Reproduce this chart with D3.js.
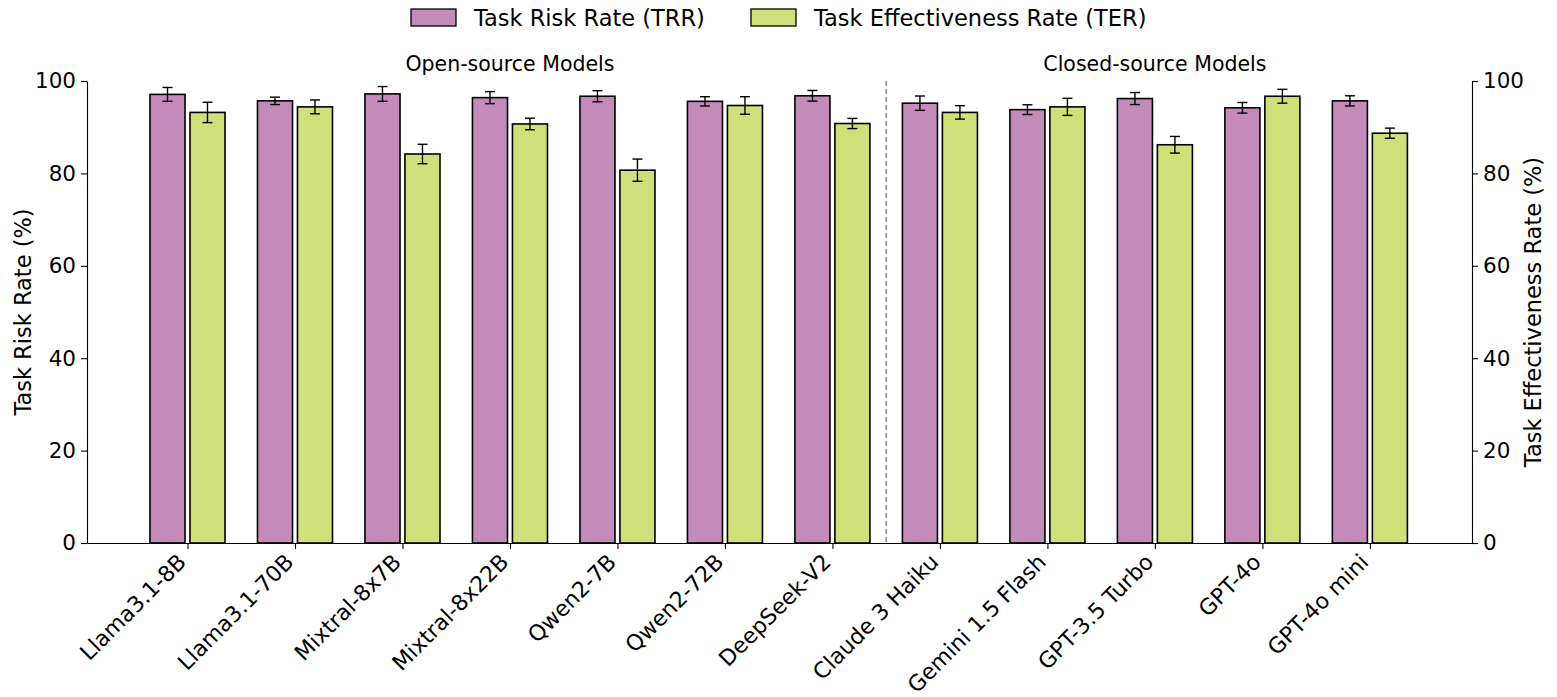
<!DOCTYPE html>
<html>
<head>
<meta charset="utf-8">
<script src="https://cdn.jsdelivr.net/npm/d3@7"></script>
<style>
  body { margin: 0; background: #fff; }
  svg text { font-family: "DejaVu Sans", sans-serif; fill: #000; }
</style>
</head>
<body>
<svg id="chart" width="1557" height="697"></svg>
<script>
const models = ["Llama3.1-8B", "Llama3.1-70B", "Mixtral-8x7B", "Mixtral-8x22B", "Qwen2-7B", "Qwen2-72B",
  "DeepSeek-V2", "Claude 3 Haiku", "Gemini 1.5 Flash", "GPT-3.5 Turbo", "GPT-4o", "GPT-4o mini"]
const trr = [97.1, 95.7, 97.2, 96.4, 96.7, 95.6, 96.8, 95.2, 93.8, 96.2, 94.2, 95.7]
const trrErr = [1.5, 0.8, 1.6, 1.3, 1.2, 1.0, 1.15, 1.55, 1.05, 1.3, 1.15, 1.1]
const ter = [93.2, 94.4, 84.2, 90.7, 80.7, 94.7, 90.8, 93.2, 94.4, 86.2, 96.7, 88.7]
const terErr = [2.2, 1.5, 2.1, 1.25, 2.4, 1.9, 1.1, 1.45, 1.85, 1.8, 1.5, 1.1]
const yTicks = [0, 20, 40, 60, 80, 100]
const groups = [{ label: "Open-source Models", at: 3 }, { label: "Closed-source Models", at: 9 }]

const svg = d3.select("#chart")
const margin = { left: 87, right: 85, top: 81, bottom: 154 }
const width = 1557 - margin.left - margin.right
const height = 697 - margin.top - margin.bottom

const g = svg.append("g").attr("transform", "translate(" + margin.left + "," + margin.top + ")")

const x = d3.scaleLinear().domain([-0.935, 11.95]).range([0, width])
const y = d3.scaleLinear().domain([0, 100]).range([height, 0])
const step = x(1) - x(0)
const barW = step * 0.326
const off = step * 0.186

const series = [
  { vals: trr, errs: trrErr, color: "#C48BBA", dx: -off },
  { vals: ter, errs: terErr, color: "#CFDF79", dx: off }
]

series.forEach(s => {
  const bars = g.append("g")
  bars.selectAll("rect")
    .data(s.vals)
    .enter().append("rect")
    .attr("x", (d, i) => x(i) + s.dx - barW / 2)
    .attr("y", d => y(d))
    .attr("width", barW)
    .attr("height", d => y(0) - y(d))
    .attr("fill", s.color)
    .attr("stroke", "#000")
    .attr("stroke-width", 1.6)

  const err = g.append("g").attr("stroke", "#000").attr("stroke-width", 1.4)
  s.vals.forEach((d, i) => {
    const cx = x(i) + s.dx
    err.append("line").attr("x1", cx).attr("x2", cx).attr("y1", y(d - s.errs[i])).attr("y2", y(d + s.errs[i]))
    err.append("line").attr("x1", cx - 5).attr("x2", cx + 5).attr("y1", y(d - s.errs[i])).attr("y2", y(d - s.errs[i]))
    err.append("line").attr("x1", cx - 5).attr("x2", cx + 5).attr("y1", y(d + s.errs[i])).attr("y2", y(d + s.errs[i]))
  })
})

// divider between open and closed models
g.append("line")
  .attr("x1", x(6.5)).attr("x2", x(6.5))
  .attr("y1", 0).attr("y2", height)
  .attr("stroke", "#888").attr("stroke-width", 1.4)
  .attr("stroke-dasharray", "5,3")

groups.forEach(gr => {
  g.append("text")
    .attr("x", x(gr.at)).attr("y", -10)
    .attr("text-anchor", "middle")
    .style("font-size", "20.5px")
    .text(gr.label)
})

// axes
const xAxis = d3.axisBottom(x).tickValues(d3.range(models.length)).tickFormat(i => models[i]).tickSize(6).tickSizeOuter(0)
const xg = g.append("g").attr("transform", "translate(0," + height + ")").call(xAxis)
xg.selectAll("text")
  .style("font-size", "22px")
  .attr("text-anchor", "end")
  .attr("dy", "0.35em")
  .attr("transform", "translate(-6,15) rotate(-45)")
  .attr("x", 0).attr("y", 0)

const yLeft = g.append("g").call(d3.axisLeft(y).tickValues(yTicks).tickSize(6).tickSizeOuter(0).tickPadding(5))
const yRight = g.append("g").attr("transform", "translate(" + width + ",0)")
  .call(d3.axisRight(y).tickValues(yTicks).tickSize(6).tickSizeOuter(0).tickPadding(5))
;[xg, yLeft, yRight].forEach(a => {
  a.select(".domain").attr("stroke", "#000").attr("stroke-width", 1.1)
  a.selectAll(".tick line").attr("stroke", "#000").attr("stroke-width", 1.1)
})
yLeft.selectAll("text").style("font-size", "21.5px")
yRight.selectAll("text").style("font-size", "21.5px")

svg.append("text")
  .attr("transform", "translate(31," + (margin.top + height / 2) + ") rotate(-90)")
  .attr("text-anchor", "middle")
  .style("font-size", "22.5px")
  .text("Task Risk Rate (%)")

svg.append("text")
  .attr("transform", "translate(1541," + (margin.top + height / 2) + ") rotate(-90)")
  .attr("text-anchor", "middle")
  .style("font-size", "22.5px")
  .text("Task Effectiveness Rate (%)")

// legend
const legend = [{ label: "Task Risk Rate (TRR)", color: "#C48BBA", x: 411 }, { label: "Task Effectiveness Rate (TER)", color: "#CFDF79", x: 751 }]
legend.forEach(l => {
  svg.append("rect").attr("x", l.x).attr("y", 9).attr("width", 45).attr("height", 17)
    .attr("fill", l.color).attr("stroke", "#000").attr("stroke-width", 1.3)
  svg.append("text").attr("x", l.x + 63).attr("y", 26).style("font-size", "22.5px").text(l.label)
})
</script>
</body>
</html>
